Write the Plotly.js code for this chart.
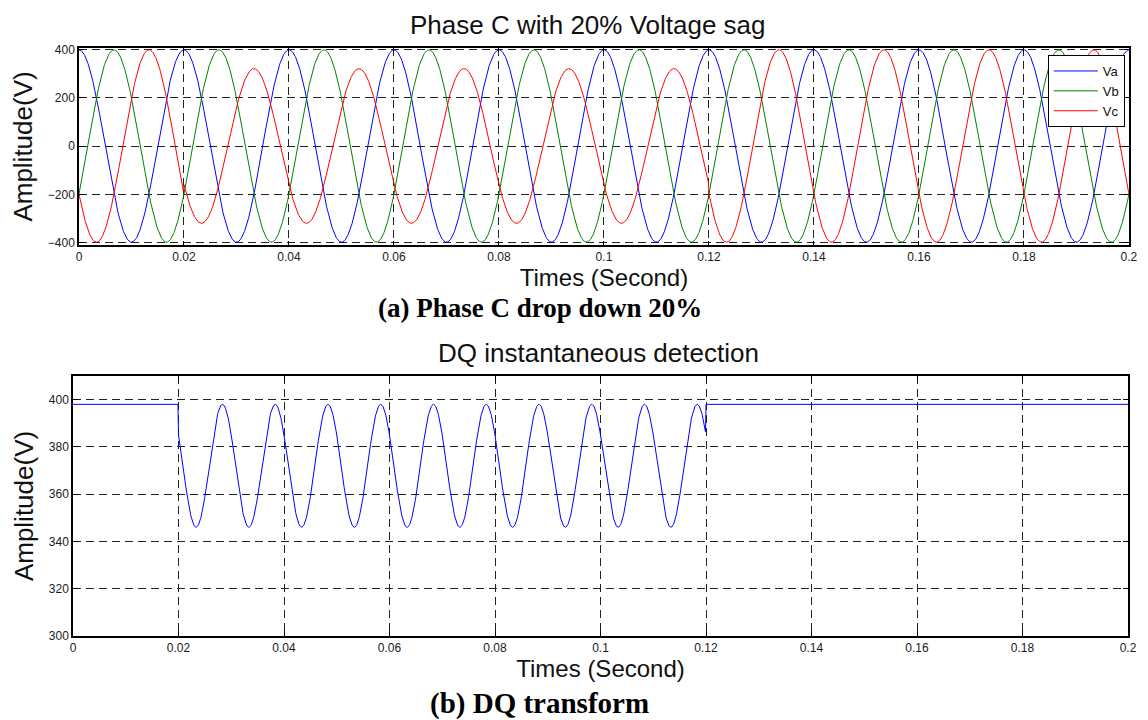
<!DOCTYPE html>
<html>
<head>
<meta charset="utf-8">
<script src="https://cdn.plot.ly/plotly-3.0.1.min.js"></script>
<style>
html,body{margin:0;padding:0;background:#ffffff;}
#chart{width:1148px;height:720px;}
</style>
</head>
<body>
<div id="chart"></div>
<script>
// ---- Data ----
const timeTickValues = [0, 0.02, 0.04, 0.06, 0.08, 0.1, 0.12, 0.14, 0.16, 0.18, 0.2];
const timeTickLabels = ['0', '0.02', '0.04', '0.06', '0.08', '0.1', '0.12', '0.14', '0.16', '0.18', '0.2'];
const phaseYTicks = [-400, -200, 0, 200, 400];
const dqYTicks = [300, 320, 340, 360, 380, 400];

const phaseNames = ['Va', 'Vb', 'Vc'];
const phaseAngleDeg = [0, -120, 120];
const lineFrequencyHz = 50;
// start time of each 50 Hz cycle and the peak voltage of each phase in that cycle
const cycleStartTimes = [0, 0.02, 0.04, 0.06, 0.08, 0.1, 0.12, 0.14, 0.16, 0.18];
const vaCyclePeaks = [398, 398, 398, 398, 398, 398, 398, 398, 398, 398];
const vbCyclePeaks = [398, 398, 398, 398, 398, 398, 398, 398, 398, 398];
const vcCyclePeaks = [398, 320, 320, 320, 320, 320, 398, 398, 398, 398];
const sampleStep = 0.0001;
const endTime = 0.2;

// ---- Build samples ----
const phasePeaks = [vaCyclePeaks, vbCyclePeaks, vcCyclePeaks];
function cycleIndex(t) {
  let k = 0;
  for (let i = 0; i < cycleStartTimes.length; i++) {
    if (t >= cycleStartTimes[i] - 1e-9) k = i;
  }
  return k;
}
const nSamples = Math.round(endTime / sampleStep) + 1;
const times = [];
const phaseValues = [[], [], []];
const dqValues = [];
for (let n = 0; n < nSamples; n++) {
  const t = +(n * sampleStep).toFixed(6);
  times.push(t);
  const k = cycleIndex(t);
  const theta = 2 * Math.PI * lineFrequencyHz * t;
  let vd = 0;
  for (let p = 0; p < 3; p++) {
    const ang = phaseAngleDeg[p] * Math.PI / 180;
    const v = phasePeaks[p][k] * Math.cos(theta + ang);
    phaseValues[p].push(v);
    vd += v * Math.cos(theta + ang);
  }
  dqValues.push(vd * 2 / 3);
}

const phaseColors = ['#0000ff', '#008000', '#ff0000'];
const traces = phaseNames.map((name, p) => ({
  type: 'scatter', mode: 'lines', name: name,
  x: times, y: phaseValues[p], xaxis: 'x', yaxis: 'y',
  line: {color: phaseColors[p], width: 1}
}));
traces.push({
  type: 'scatter', mode: 'lines', name: 'Vdq', showlegend: false,
  x: times, y: dqValues, xaxis: 'x2', yaxis: 'y2',
  line: {color: '#0000ff', width: 1}
});

const sansFont = 'Liberation Sans, Arial, Helvetica, sans-serif';
const serifFont = 'Liberation Serif, Times New Roman, serif';
const gridColor = '#222222';
function xAxis(domain, anchor) {
  return {
    domain: domain, anchor: anchor, range: [0, 0.2],
    tickmode: 'array', tickvals: timeTickValues, ticktext: timeTickLabels,
    ticks: 'inside', ticklen: 5, tickwidth: 1, tickcolor: '#000',
    showline: true, linecolor: '#000', linewidth: 1.5, mirror: 'ticks',
    showgrid: true, gridcolor: gridColor, gridwidth: 1, griddash: '8px,5px',
    zeroline: false,
    tickfont: {family: sansFont, size: 12, color: '#1a1a1a'},
    title: {text: 'Times (Second)', font: {family: sansFont, size: 24, color: '#111'}, standoff: 0}
  };
}
function yAxis(domain, anchor, range, ticks) {
  return {
    domain: domain, anchor: anchor, range: range,
    tickmode: 'array', tickvals: ticks,
    ticks: 'inside', ticklen: 5, tickwidth: 1, tickcolor: '#000',
    showline: true, linecolor: '#000', linewidth: 1.5, mirror: 'ticks',
    showgrid: true, gridcolor: gridColor, gridwidth: 1, griddash: '8px,5px',
    zeroline: false,
    tickfont: {family: sansFont, size: 12, color: '#1a1a1a'},
    title: {text: 'Amplitude(V)', font: {family: sansFont, size: 26, color: '#111'}, standoff: 8}
  };
}

const layout = {
  width: 1148, height: 720,
  margin: {l: 0, r: 0, t: 0, b: 0},
  paper_bgcolor: '#ffffff', plot_bgcolor: '#ffffff',
  showlegend: true,
  title: {
    text: 'Phase C with 20% Voltage sag',
    font: {family: sansFont, size: 26, color: '#111'},
    x: 0.512, xanchor: 'center', y: 0.966, yanchor: 'middle'
  },
  xaxis: xAxis([0.0688, 0.9834], 'y'),
  yaxis: yAxis([0.6593, 0.9338], 'x', [-411, 407], phaseYTicks),
  xaxis2: xAxis([0.0636, 0.9826], 'y2'),
  yaxis2: yAxis([0.1167, 0.4778], 'x2', [300, 410], dqYTicks),
  legend: {
    x: 0.9127, y: 0.9236, xanchor: 'left', yanchor: 'top',
    bgcolor: '#ffffff', bordercolor: '#000', borderwidth: 1,
    font: {family: sansFont, size: 13, color: '#111'},
    itemwidth: 44, tracegroupgap: 0
  },
  annotations: [
    {text: 'DQ instantaneous detection', xref: 'paper', yref: 'paper',
     x: 0.521, y: 0.5097, xanchor: 'center', yanchor: 'middle', showarrow: false,
     font: {family: sansFont, size: 26, color: '#111'}},
    {text: '<b>(a) Phase C drop down 20%</b>', xref: 'paper', yref: 'paper',
     x: 0.47, y: 0.5722, xanchor: 'center', yanchor: 'middle', showarrow: false,
     font: {family: serifFont, size: 27, color: '#000'}},
    {text: '<b>(b) DQ transform</b>', xref: 'paper', yref: 'paper',
     x: 0.47, y: 0.0236, xanchor: 'center', yanchor: 'middle', showarrow: false,
     font: {family: serifFont, size: 29, color: '#000'}}
  ]
};

Plotly.newPlot('chart', traces, layout, {displayModeBar: false, responsive: false});
</script>
</body>
</html>
